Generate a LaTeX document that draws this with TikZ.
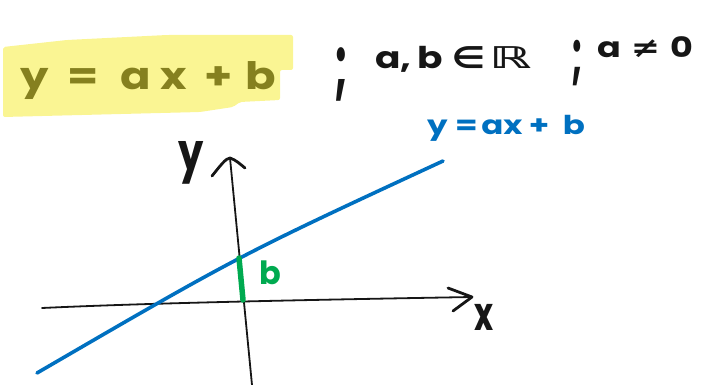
\documentclass[tikz,border=0pt]{standalone}
\usepackage{fontspec}
\setmainfont{Poppins}
\newfontfamily\symfont{DejaVu Sans}
\usepackage{graphicx}
\definecolor{ink}{RGB}{22,22,22}
\definecolor{penblue}{RGB}{0,112,192}
\definecolor{pengreen}{RGB}{0,170,80}
\definecolor{hilite}{RGB}{245,235,40}
\tikzset{
  inkline/.style={draw=ink, line width=1.8pt, line cap=round, line join=round},
  tip/.style={draw=ink, line width=2.8pt, line cap=round, line join=round},
  hand/.style={inner sep=0pt, outer sep=0pt, text=ink, font=\bfseries},
}
\begin{document}
\begin{tikzpicture}[x=1pt,y=-1pt]
\useasboundingbox (0,0) rectangle (707,385);
% --- coordinates
\coordinate (xs) at (42,308);
\coordinate (xe) at (472,297);
\coordinate (xa1) at (448,288);
\coordinate (xa2) at (453,311);
\coordinate (ys) at (252,385);
\coordinate (ye) at (230,158);
\coordinate (ya1) at (212,176);
\coordinate (ya2) at (245,168);
\coordinate (ls) at (37,373);
\coordinate (le) at (443,161);
\coordinate (gs) at (239,258);
\coordinate (ge) at (243,300);
% --- top formula (black ink, highlighted afterwards)
\node[hand, anchor=base west] (main) at (20,90)
  {\fontsize{36}{40}\selectfont\scalebox{1.25}[1.05]{y\hspace{15pt}=\hspace{18pt}a\hspace{7pt}x\hspace{14pt}+\hspace{10pt}b}};
\fill[hilite, opacity=0.5, rounded corners=2pt]
  (3,47) -- (67,40) -- (167,35) -- (293,35) -- (293,70) -- (280,70) -- (280,100)
  -- (240,102) -- (233,107) -- (200,112) -- (3,117) -- cycle;
% --- conditions
\node[hand, anchor=base west] (semi1) at (334,92)
  {\fontsize{40}{42}\selectfont\scalebox{1}[1.9]{;}};
\node[hand, anchor=base west] (cond1) at (375,69)
  {\fontsize{30}{32}\selectfont\scalebox{1.25}[1]{a,\hspace{5pt}b\hspace{7pt}{\symfont ∈}\hspace{3pt}{\symfont\scalebox{1.4}[1]{ℝ}}}};
\node[hand, anchor=base west] (semi2) at (571,78)
  {\fontsize{34}{36}\selectfont\scalebox{1}[1.9]{;}};
\node[hand, anchor=base west] (cond2) at (597,58)
  {\fontsize{28}{30}\selectfont\scalebox{1.25}[1]{a\hspace{8pt}{\symfont ≠}\hspace{8pt}0}};
% --- axes
\draw[inkline] (xs) .. controls (150,303) and (300,300) .. (xe);
\draw[tip] (xa1) -- (xe) -- (xa2);
\draw[inkline] (ys) -- (ye);
\draw[tip] (ya1) .. controls (220,166) and (226,158) .. (ye) .. controls (236,160) and (240,164) .. (ya2);
\node[hand] (ylab) at (191,163) {\fontsize{40}{42}\selectfont\scalebox{1}[1.3]{y}};
\node[hand] (xlab) at (484,317) {\fontsize{36}{40}\selectfont\scalebox{0.9}[1.3]{x}};
% --- line y = ax + b
\draw[draw=penblue, line width=3.6pt, line cap=round] (ls) .. controls (240,255) .. (le);
\node[hand, text=penblue, anchor=base west] (blab) at (427,135)
  {\fontsize{26}{28}\selectfont\scalebox{1.25}[1]{y\hspace{6pt}=\hspace{3pt}ax\hspace{5pt}+\hspace{11pt}b}};
% --- intercept b
\draw[draw=pengreen, line width=5.5pt, line cap=round] (gs) -- (ge);
\node[hand, text=pengreen] (glab) at (270,273) {\fontsize{32}{34}\selectfont b};
\end{tikzpicture}
\end{document}
